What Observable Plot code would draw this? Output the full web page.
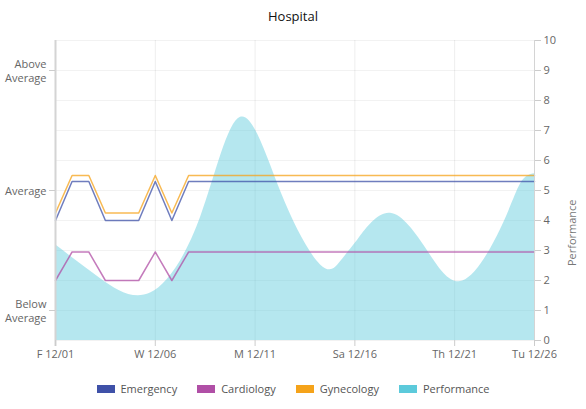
<!DOCTYPE html>
<html>
<head>
<meta charset="utf-8">
<script src="https://cdn.jsdelivr.net/npm/d3@7"></script>
<script src="https://cdn.jsdelivr.net/npm/@observablehq/plot@0.6"></script>
<style>
  body { margin: 0; background: #fff; font-family: "Open Sans", sans-serif; }
  #title { height: 32px; line-height: 32px; text-align: center; font-size: 13px; color: #111; }
  #legend { display: flex; justify-content: center; gap: 20px; margin-top: 12px; font-size: 11px; color: #555; line-height: 14px; }
  .item { display: flex; align-items: center; gap: 6px; }
  .sw { width: 18px; height: 8px; display: inline-block; }
</style>
</head>
<body>
<div id="title">Hospital</div>
<div id="chart"></div>
<div id="legend"></div>
<script>
// Day offsets from Fri 12/01 and the labels shown on the date axis
const dateTicks = [0, 5, 10, 15, 20, 24];
const dateLabels = ["F 12/01", "W 12/06", "M 12/11", "Sa 12/16", "Th 12/21", "Tu 12/26"];

// Rating levels on the left axis, placed on the shared 0–10 scale
const ratingValues = [1, 5, 9];
const ratingLabels = ["Below\nAverage", "Average", "Above\nAverage"];

// Performance scale ticks (right axis)
const perfTicks = [0, 1, 2, 3, 4, 5, 6, 7, 8, 9, 10];

// Performance score samples (day offset, score), drawn as a smooth spline
const perfDays = [0, 2.26, 4.76, 7.27, 9.27, 11.3, 13.28, 14.3, 15.2, 16.79, 18.63, 20.4, 22.3, 23.3, 24];
const performance = [3.19, 2.06, 1.58, 4.11, 7.44, 4.94, 2.52, 2.64, 3.4, 4.24, 3.0, 1.98, 3.7, 5.22, 5.56];

// Department ratings, sampled every 20 hours early on, then holding steady
const lineDays = [0, 0.83, 1.67, 2.5, 3.33, 4.17, 5, 5.83, 6.67, 24];
const emergency = [4.0, 5.3, 5.3, 4.0, 4.0, 4.0, 5.3, 4.0, 5.3, 5.3];
const cardiology = [2.0, 2.95, 2.95, 2.0, 2.0, 2.0, 2.95, 2.0, 2.95, 2.95];
const gynecology = [4.25, 5.5, 5.5, 4.25, 4.25, 4.25, 5.5, 4.25, 5.5, 5.5];

const seriesNames = ["Emergency", "Cardiology", "Gynecology", "Performance"];
const seriesColors = ["#3f51a8", "#b04fa6", "#f5a31a", "#5ccadb"];

const perfData = perfDays.map((d, i) => ({day: d, value: performance[i]}));
const lineData = [
  ...lineDays.map((d, i) => ({day: d, value: emergency[i], dept: "Emergency"})),
  ...lineDays.map((d, i) => ({day: d, value: cardiology[i], dept: "Cardiology"})),
  ...lineDays.map((d, i) => ({day: d, value: gynecology[i], dept: "Gynecology"}))
];

const chart = Plot.plot({
  width: 586,
  height: 338,
  marginTop: 8,
  marginBottom: 30,
  marginLeft: 55,
  marginRight: 52,
  style: {fontFamily: "Open Sans, sans-serif", fontSize: "11px", background: "#fff"},
  x: {domain: [0, 24]},
  y: {domain: [0, 10]},
  color: {domain: seriesNames, range: seriesColors},
  marks: [
    Plot.gridY(perfTicks, {stroke: "#000", strokeOpacity: 0.05}),
    Plot.gridX(dateTicks, {stroke: "#000", strokeOpacity: 0.07}),
    Plot.areaY(perfData, {x: "day", y: "value", fill: seriesColors[3], fillOpacity: 0.45, curve: "natural"}),
    Plot.lineY(lineData, {x: "day", y: "value", z: "dept", stroke: "dept", strokeWidth: 1.5, strokeOpacity: 0.75}),
    Plot.ruleX([0], {stroke: "#d4d4d4", strokeWidth: 2, insetBottom: -6}),
    Plot.ruleX([24], {stroke: "#d4d4d4", strokeWidth: 1, insetBottom: -6}),
    Plot.axisY({anchor: "left", ticks: ratingValues, tickFormat: v => ratingLabels[ratingValues.indexOf(v)], tickSize: 6, tickPadding: 3, lineHeight: 1.3, stroke: "#ccc", fill: "#666", label: null}),
    Plot.axisY({anchor: "right", ticks: perfTicks, tickSize: 6, tickPadding: 3, stroke: "#ccc", fill: "#666", label: null}),
    Plot.axisX({ticks: dateTicks, tickFormat: v => dateLabels[dateTicks.indexOf(v)], tickSize: 6, tickPadding: 4, stroke: "#ccc", fill: "#666", label: null}),
    Plot.text(["Performance"], {frameAnchor: "right", rotate: -90, dx: 38, dy: 9, fill: "#777", fontSize: 11})
  ]
});
document.getElementById("chart").appendChild(chart);

const legend = document.getElementById("legend");
seriesNames.forEach((name, i) => {
  const item = document.createElement("div");
  item.className = "item";
  const sw = document.createElement("span");
  sw.className = "sw";
  sw.style.background = seriesColors[i];
  const label = document.createElement("span");
  label.textContent = name;
  item.append(sw, label);
  legend.appendChild(item);
});
</script>
</body>
</html>
